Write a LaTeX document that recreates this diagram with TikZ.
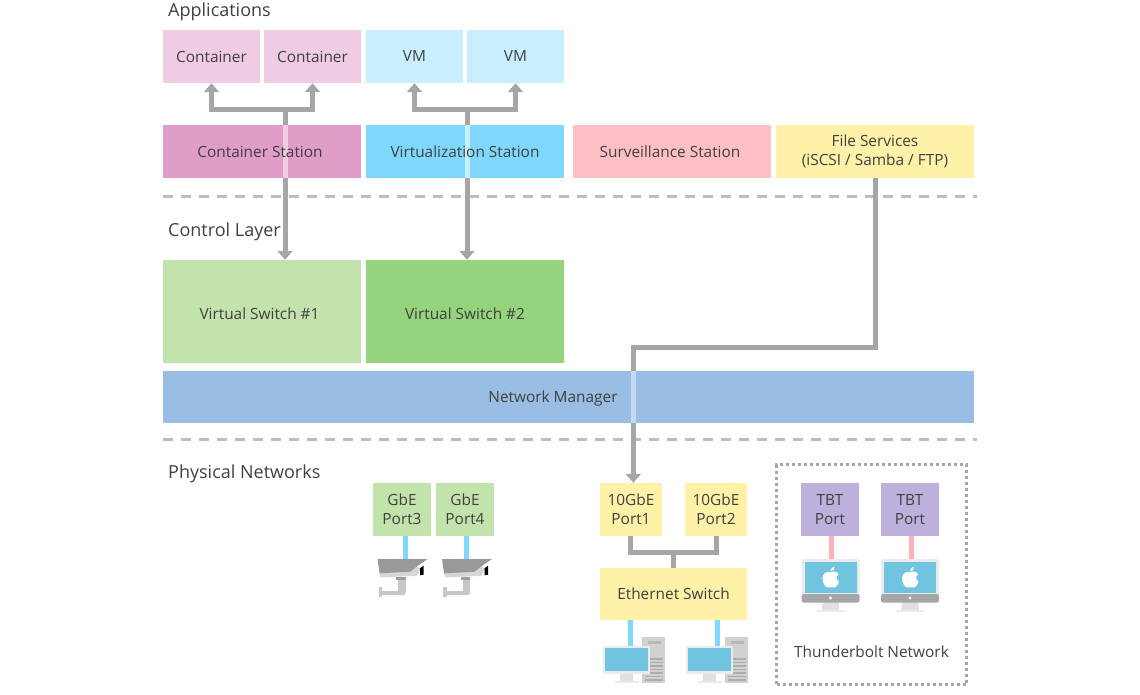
\documentclass[tikz,border=0pt]{standalone}
\usepackage{fontspec}
\setmainfont{Open Sans}
\usetikzlibrary{arrows.meta}
\definecolor{inktext}{HTML}{404040}
\definecolor{flowgray}{HTML}{A6A6A6}
\definecolor{dashgray}{HTML}{BDBDBD}
\definecolor{containerlight}{HTML}{EFCCE3}
\definecolor{containerdark}{HTML}{DF9DC8}
\definecolor{vmlight}{HTML}{C9EEFF}
\definecolor{vmdark}{HTML}{7FD8FC}
\definecolor{survpink}{HTML}{FFBFC5}
\definecolor{fileyellow}{HTML}{FFF2A8}
\definecolor{switchlight}{HTML}{C3E3AC}
\definecolor{switchdark}{HTML}{95D37C}
\definecolor{managerblue}{HTML}{9ABDE3}
\definecolor{managerlight}{HTML}{C4DAF2}
\definecolor{tbtpurple}{HTML}{BEB0DC}
\definecolor{linkblue}{HTML}{7FD8FC}
\definecolor{linkpink}{HTML}{FFB0B5}
\definecolor{screenblue}{HTML}{70C4E0}
\definecolor{bezel}{HTML}{EBEBEB}
\newcommand{\boxrow}{151.5}
\newcommand{\portrow}{509.5}

\begin{document}
\begin{tikzpicture}[x=1pt, y=-1pt, font=\fontsize{15.4}{19}\selectfont, text=inktext]
  \tikzset{box/.style={inner sep=0pt, align=center, minimum width=198pt, minimum height=53pt}}
  \tikzset{halfbox/.style={box, minimum width=97pt}}
  \tikzset{portbox/.style={box, minimum width=58pt, minimum height=53pt}}
  \tikzset{tenbox/.style={portbox, minimum width=62pt, fill=fileyellow}}
  \tikzset{heading/.style={anchor=west, inner sep=0pt, font=\fontsize{18}{20}\selectfont}}
  \tikzset{flow/.style={draw=flowgray, line width=5pt, -{Triangle[width=15pt, length=9pt]}}}
  \tikzset{trunk/.style={draw=flowgray, line width=5pt}}
  \tikzset{wire/.style={line width=5pt}}
  \tikzset{divider/.style={draw=dashgray, line width=3pt, dash pattern=on 10pt off 8pt}}
  \tikzset{lane/.style 2 args={path picture={\fill[#2] ([xshift=#1pt-2.5pt]path picture bounding box.north) rectangle ([xshift=#1pt+2.5pt]path picture bounding box.south);}}}
  \tikzset{camera/.pic={
    \coordinate (-in) at (0, 0);
    \fill[black!22] (-7.5, 20) rectangle (0, 34);
    \fill[black!22, rounded corners=2pt] (-27, 32) rectangle (0, 36);
    \fill[black!22] (-27, 27.7) rectangle (-23.5, 38.3);
    \fill[black!16] (-26, 14.3) -- (-25, 18.3) -- (11, 17) -- (16, 9.3) -- (11, 7.7) -- cycle;
    \fill[black!40] (-28, 0) -- (22, 0) -- (11, 7.7) -- (4.5, 12.7) -- (-26, 14.3) -- cycle;
    \fill[black] (14.5, 9.3) -- (18, 6.7) -- (18, 15.7) -- (14.5, 16.3) -- cycle;
    \fill[black!38] (-9.5, 18) rectangle (0, 21);
  }}
  \tikzset{desktop/.pic={
    \coordinate (-in) at (3.5, 0);
    \fill[black!18] (15.5, -9) rectangle (38.5, 37);
    \fill[black!28] (21, -5) rectangle (34, -2);
    \fill[white] (21, 3) circle (1pt) (21, 8) circle (1pt);
    \foreach \i in {12, 15.5, ..., 34} {\fill[black!32] (18, \i) rectangle (36, \i+1.6);}
    \fill[black!12] (-6.5, 28) rectangle (6.5, 35);
    \fill[black!8] (-12, 35) rectangle (12, 37);
    \fill[bezel] (-23.5, 0) rectangle (23.5, 28);
    \fill[screenblue] (-21.5, 2) rectangle (21.5, 25);
  }}
  \tikzset{imac/.pic={
    \coordinate (-in) at (1, 0);
    \fill[black!12] (-8, 43) -- (8, 43) -- (9, 51) -- (-9, 51) -- cycle;
    \fill[black!8] (-14, 51) rectangle (14, 53);
    \fill[bezel, rounded corners=1.5pt] (-29, 0) rectangle (29, 36);
    \fill[flowgray, rounded corners=2pt] (-29, 35) rectangle (29, 43.5);
    \fill[white] (0, 39) circle (1.6pt);
    \fill[screenblue] (-26, 2.5) rectangle (26, 33.5);
    \fill[white] (0, 13.5) .. controls (3, 11.5) and (7, 12.5) .. (8, 15.5) .. controls (5.5, 17) and (5.5, 21.5) .. (8.5, 22.5) .. controls (7.5, 26) and (5, 29) .. (3, 28.5) .. controls (1.5, 28) and (-1, 28) .. (-2.5, 28.5) .. controls (-5, 29) and (-8, 23.5) .. (-8, 19.5) .. controls (-8, 14) and (-3, 11.5) .. (0, 13.5) -- cycle;
    \fill[white] (0, 12.5) .. controls (0, 9.5) and (2, 8) .. (4, 7.5) .. controls (4.2, 10) and (2.5, 12) .. (0, 12.5) -- cycle;
  }}

  \useasboundingbox (0, 0) rectangle (1140, 695);

  \coordinate (topdivleft) at (163, 197);
  \coordinate (topdivright) at (977, 197);
  \coordinate (lowdivleft) at (163, 439);
  \coordinate (lowdivright) at (977, 439);
  \draw[divider] (topdivleft) -- (topdivright);
  \draw[divider] (lowdivleft) -- (lowdivright);

  \node[heading] (applications) at (168, 12) {Applications};
  \node[heading] (controllayer) at (168, 232) {Control Layer};
  \node[heading] (physical) at (168, 474) {Physical Networks};

  \node[halfbox, fill=containerlight] (container1) at (211.5, 56.5) {Container};
  \node[halfbox, fill=containerlight] (container2) at (312.5, 56.5) {Container};
  \node[halfbox, fill=vmlight] (vm1) at (414.5, 56.5) {VM};
  \node[halfbox, fill=vmlight] (vm2) at (515.5, 56.5) {VM};

  \node[box, fill=containerdark, lane={23}{containerlight}] (cstation) at (262, \boxrow) {Container Station\hspace*{4pt}};
  \node[box, fill=vmdark, lane={2}{vmlight}] (vstation) at (465, \boxrow) {Virtualization Station};
  \node[box, fill=survpink] (sstation) at (672, \boxrow) {Surveillance Station\hspace*{4pt}};
  \node[box, fill=fileyellow] (fileservices) at (875, \boxrow) {File Services\\(iSCSI / Samba / FTP)};

  \node[box, fill=switchlight, minimum height=103pt, text height=16pt] (vswitch1) at (262, 311.5) {Virtual Switch \#1\hspace*{5pt}};
  \node[box, fill=switchdark, minimum height=103pt, text height=16pt] (vswitch2) at (465, 311.5) {Virtual Switch \#2};
  \node[box, fill=managerblue, minimum width=811pt, minimum height=52pt, text height=15pt, lane={64.8}{managerlight}] (manager) at (568.5, 397) {Network Manager\hspace*{31pt}};

  \node[portbox, fill=switchlight] (gbe3) at (402, \portrow) {GbE\\Port3};
  \node[portbox, fill=switchlight] (gbe4) at (465, \portrow) {GbE\\Port4};
  \node[tenbox] (tengbe1) at (631, \portrow) {10GbE\\Port1};
  \node[tenbox] (tengbe2) at (716, \portrow) {10GbE\\Port2};
  \node[portbox, fill=tbtpurple] (tbt1) at (830, \portrow) {TBT\\Port};
  \node[portbox, fill=tbtpurple] (tbt2) at (910, \portrow) {TBT\\Port};
  \node[box, fill=fileyellow, minimum width=147pt, minimum height=52pt] (ethswitch) at (673.5, 594) {Ethernet Switch};

  \node[draw=flowgray, line width=3pt, dash pattern=on 3pt off 3pt, minimum width=190pt, minimum height=220pt, inner sep=0pt] (tbtnet) at (871.5, 574.5) {};
  \node[inner sep=0pt] (tbtlabel) at (871.5, 652) {Thunderbolt Network};

  \pic (cam1) at (405.5, 559) {camera};
  \pic (cam2) at (470, 559) {camera};
  \pic (pc1) at (626.5, 646) {desktop};
  \pic (pc2) at (709.5, 646) {desktop};
  \pic (mac1) at (830.5, 559) {imac};
  \pic (mac2) at (910, 559) {imac};

  \coordinate (cbranch) at (285, 110);
  \coordinate (vbranch) at (467, 110);
  \coordinate (fileturn) at (633.3, 347.5);
  \coordinate (portjoin) at (673.5, 552.5);
  \coordinate (tenleft) at (630, 536);

  \draw[flow] (cbranch) -| (container1.south);
  \draw[flow] (cbranch) -| (container2.south);
  \draw[trunk] (cbranch) -- (cbranch |- cstation.north);
  \draw[flow] (cbranch |- cstation.south) -- (cbranch |- vswitch1.north);
  \draw[flow] (vbranch) -| (vm1.south);
  \draw[flow] (vbranch) -| (vm2.south);
  \draw[trunk] (vbranch) -- (vbranch |- vstation.north);
  \draw[flow] (vbranch |- vstation.south) -- (vbranch |- vswitch2.north);
  \draw[trunk] (fileservices.south) |- (fileturn) -- (fileturn |- manager.north);
  \draw[flow] (fileturn |- manager.south) -- (fileturn |- tengbe1.north);
  \draw[trunk] (tenleft) |- (portjoin) -| (tengbe2.south);
  \draw[trunk] (portjoin) -- (portjoin |- ethswitch.north);

  \draw[wire, draw=linkblue] (cam1-in |- gbe3.south) -- (cam1-in);
  \draw[wire, draw=linkblue] ([xshift=1pt]gbe4.south) -- ([xshift=1pt]gbe4.south |- cam2-in);
  \draw[wire, draw=linkblue] (pc1-in |- ethswitch.south) -- (pc1-in);
  \draw[wire, draw=linkblue] ([xshift=4pt]pc2-in |- ethswitch.south) -- ([xshift=4pt]pc2-in);
  \draw[wire, draw=linkpink] (mac1-in |- tbt1.south) -- (mac1-in);
  \draw[wire, draw=linkpink] (mac2-in |- tbt2.south) -- (mac2-in);
\end{tikzpicture}
\end{document}
